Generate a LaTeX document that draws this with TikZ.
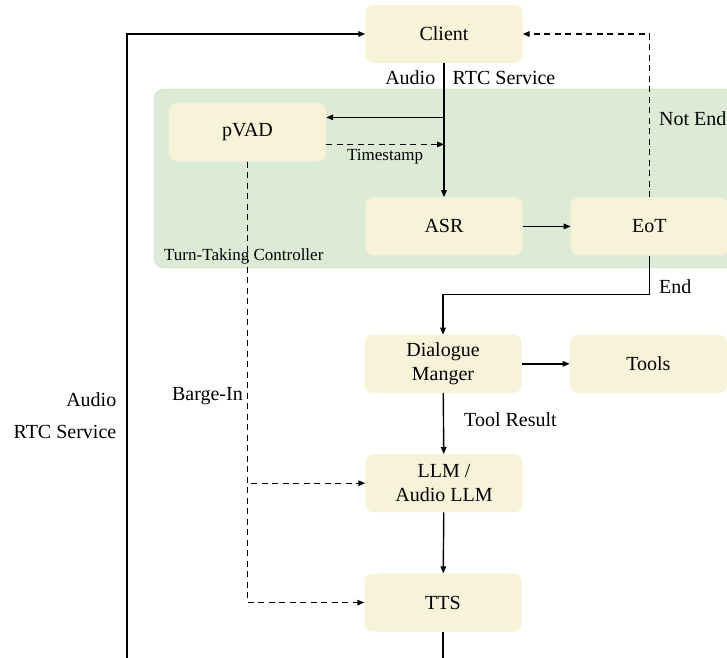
\documentclass[tikz,border=0pt]{standalone}
\usepackage{fontspec}
\setmainfont{Liberation Serif}
\usepackage{tikz}
\usetikzlibrary{positioning,arrows.meta}

\definecolor{boxfill}{HTML}{F7F3D8}
\definecolor{ctrlfill}{HTML}{DCEBD5}
\definecolor{ctrlline}{HTML}{CADBC3}

\tikzset{
  blk/.style={rectangle, rounded corners=8pt, fill=boxfill, minimum width=157pt,
    minimum height=58pt, align=center, font=\fontsize{20}{24.5}\selectfont},
  arr/.style={-{Triangle[length=7pt,width=5.5pt]}, line width=1.4pt},
  darr/.style={arr, dash pattern=on 6pt off 4.5pt},
  lbl/.style={font=\fontsize{20}{24}\selectfont},
  slbl/.style={font=\fontsize{17}{20}\selectfont}
}

\begin{document}
\begin{tikzpicture}[x=1pt, y=1pt]
\clip (0,0) rectangle (727,657);

% Controller area
\coordinate (ttcsw) at (154,389);
\draw[fill=ctrlfill, draw=ctrlline, rounded corners=10pt] (ttcsw) rectangle ++(640,179);
\node[slbl, anchor=base west, inner sep=0pt] (ttc) at ([shift={(10,8)}]ttcsw) {Turn-Taking Controller};

% Define nodes
\node[blk] (client) at (444,623) {Client};
\node[blk, below=134pt of client] (asr) {ASR};
\node[blk, right=48pt of asr] (eot) {EoT};
\node[blk, below=40pt of client, xshift=-196.5pt] (pvad) {pVAD};
\node[blk, below=79pt of asr, xshift=-1pt] (dm) {Dialogue\\Manger};
\node[blk, right=48pt of dm] (tools) {Tools};
\node[blk, below=61pt of dm, xshift=1pt] (llm) {LLM /\\Audio LLM};
\node[blk, below=61pt of llm, xshift=-1pt] (tts) {TTS};
\coordinate (ret) at (127,-20);

% Connect the nodes
\draw[arr] (client.south) -- node[lbl, left, pos=0.11, inner sep=8pt] (audio) {Audio}
  node[lbl, right, pos=0.11, inner sep=8pt] (rtc) {RTC Service} (asr.north);
\coordinate (tap) at ([yshift=15pt]pvad.east -| client.south);
\draw[arr] (tap) -- (tap -| pvad.east);
\draw[darr] ([yshift=-12pt]pvad.east) -- node[slbl, below, inner sep=4pt] (ts) {Timestamp}
  ([yshift=-12pt]pvad.east -| client.south);
\draw[arr] (asr) -- (eot);
\draw[darr] (eot.north) |- node[lbl, right, pos=0.24, inner sep=9pt] (ne) {Not End} (client.east);
\draw[arr] (eot.south) -- node[lbl, right, pos=0.8, inner sep=9pt] (end) {End} ++(0,-39) -| (dm.north);
\draw[arr] (dm) -- (tools);
\draw[arr] (dm) -- node[lbl, right, pos=0.44, inner sep=20pt] (tr) {Tool Result} (llm);
\draw[arr] (llm) -- (tts);
\draw[darr] (pvad.south) |- (llm.west);
\draw[darr] (pvad.south) |- node[lbl, left, pos=0.266, inner sep=4pt] (bi) {Barge-In} (tts.west);
\draw[arr] (tts.south) |- (ret) |- node[lbl, left, pos=0.203, align=right, inner sep=10pt] (rtcl)
  {Audio\\[8pt]RTC Service} (client.west);

\end{tikzpicture}
\end{document}
